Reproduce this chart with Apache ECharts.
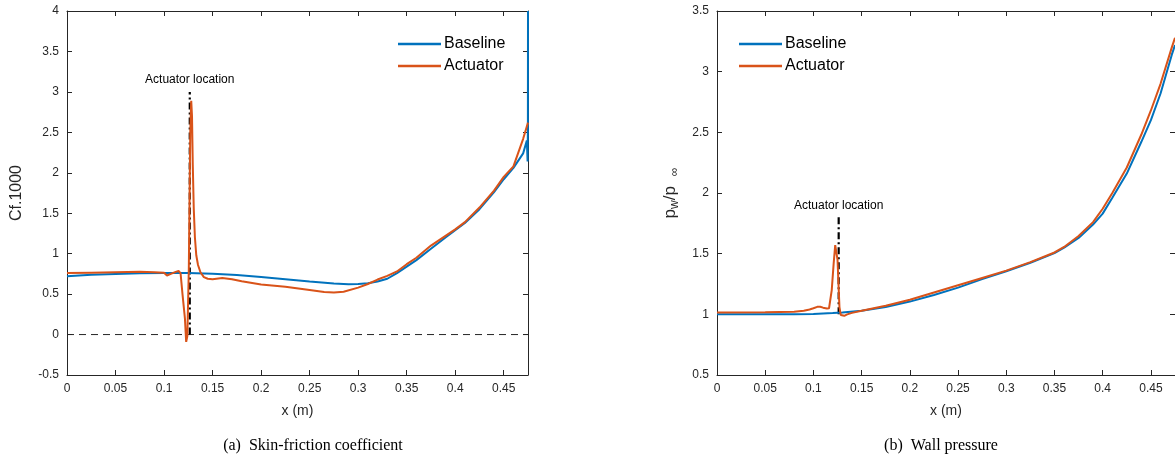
<!DOCTYPE html>
<html>
<head>
<meta charset="utf-8">
<script src="https://cdn.jsdelivr.net/npm/echarts@6/dist/echarts.min.js"></script>
<style>
  html, body { margin: 0; padding: 0; background: #fff; }
  #chart { width: 1175px; height: 465px; }
</style>
</head>
<body>
<div id="chart"></div>
<script>
// (a) skin friction, Cf*1000
const cfBaseX = [0, 0.025, 0.05, 0.075, 0.1, 0.125, 0.15, 0.175, 0.2, 0.225, 0.25, 0.275, 0.29, 0.3, 0.31, 0.32, 0.33, 0.34, 0.35, 0.36, 0.375, 0.39, 0.4, 0.41, 0.425, 0.44, 0.45, 0.46, 0.47, 0.4738, 0.4746, 0.4749, 0.475]
const cfBaseY = [0.72, 0.74, 0.75, 0.758, 0.762, 0.76, 0.752, 0.735, 0.712, 0.685, 0.655, 0.63, 0.622, 0.625, 0.635, 0.655, 0.69, 0.76, 0.84, 0.92, 1.06, 1.2, 1.29, 1.38, 1.55, 1.76, 1.92, 2.06, 2.24, 2.4, 2.14, 2.6, 4.0]
const cfActX = [0, 0.025, 0.05, 0.075, 0.09, 0.1, 0.103, 0.107, 0.112, 0.115, 0.117, 0.119, 0.1215, 0.1228, 0.124, 0.1255, 0.127, 0.128, 0.1288, 0.1296, 0.1306, 0.1318, 0.1332, 0.135, 0.1375, 0.141, 0.145, 0.15, 0.16, 0.17, 0.18, 0.2, 0.225, 0.25, 0.265, 0.275, 0.285, 0.3, 0.31, 0.32, 0.33, 0.34, 0.35, 0.36, 0.375, 0.39, 0.4, 0.41, 0.425, 0.44, 0.45, 0.46, 0.47, 0.475]
const cfActY = [0.76, 0.765, 0.77, 0.775, 0.77, 0.765, 0.73, 0.75, 0.775, 0.785, 0.76, 0.5, 0.2, -0.09, -0.02, 0.8, 2.5, 2.89, 2.7, 2.1, 1.56, 1.2, 0.98, 0.86, 0.77, 0.71, 0.69, 0.685, 0.7, 0.685, 0.66, 0.62, 0.59, 0.55, 0.525, 0.52, 0.53, 0.58, 0.625, 0.68, 0.725, 0.78, 0.87, 0.95, 1.1, 1.22, 1.3, 1.39, 1.57, 1.78, 1.95, 2.08, 2.42, 2.62]

// (b) wall pressure, pw/pinf
const pBaseX = [0, 0.05, 0.08, 0.1, 0.12, 0.13, 0.15, 0.175, 0.2, 0.225, 0.25, 0.275, 0.3, 0.325, 0.35, 0.36, 0.375, 0.39, 0.4, 0.41, 0.425, 0.44, 0.45, 0.46, 0.4717, 0.475]
const pBaseY = [1.0, 1.0, 1.0, 1.003, 1.01, 1.015, 1.03, 1.06, 1.105, 1.16, 1.22, 1.29, 1.355, 1.425, 1.505, 1.55, 1.63, 1.74, 1.83, 1.96, 2.16, 2.42, 2.6, 2.82, 3.14, 3.22]
const pActX = [0, 0.05, 0.08, 0.09, 0.096, 0.1, 0.104, 0.107, 0.11, 0.114, 0.1162, 0.119, 0.121, 0.1226, 0.124, 0.125, 0.126, 0.127, 0.1284, 0.13, 0.132, 0.135, 0.14, 0.15, 0.175, 0.2, 0.225, 0.25, 0.275, 0.3, 0.325, 0.35, 0.36, 0.375, 0.39, 0.4, 0.41, 0.425, 0.44, 0.45, 0.46, 0.4717, 0.475]
const pActY = [1.015, 1.017, 1.022, 1.03, 1.04, 1.05, 1.062, 1.063, 1.055, 1.048, 1.05, 1.2, 1.42, 1.571, 1.56, 1.45, 1.25, 1.06, 0.994, 0.982, 0.988, 1.0, 1.012, 1.03, 1.07, 1.12, 1.18, 1.24, 1.3, 1.36, 1.43, 1.51, 1.555, 1.645, 1.76, 1.87, 2.0, 2.21, 2.48, 2.68, 2.9, 3.2, 3.28]

// actuator marker: x position and vertical extent
const actLocX = [0.1265, 0.1262]
const actLocY = [[0, 3.0], [1.0, 1.8]]

const xTicks = [0, 0.05, 0.1, 0.15, 0.2, 0.25, 0.3, 0.35, 0.4, 0.45]

const BLUE = '#0072BD'
const ORANGE = '#D95319'
const AX = '#262626'
const FONT = '"Liberation Sans", Arial, sans-serif'
const SERIF = '16px "Liberation Serif", "Times New Roman", serif'

const pairs = (xs, ys) => xs.map((x, i) => [x, ys[i]])

const chart = echarts.init(document.getElementById('chart'))

const tickLabel = v => {
  const r = Math.round(v * 1000) / 1000
  return xTicks.includes(r) ? String(r) : ''
}

const makeX = (grid, top) => ({
  type: 'value',
  gridIndex: grid,
  position: top ? 'top' : 'bottom',
  min: 0,
  max: 0.475,
  interval: 0.05,
  axisLine: { show: true, onZero: false, lineStyle: { color: AX, width: 1 } },
  axisTick: { show: true, inside: true, length: 5, lineStyle: { color: AX } },
  axisLabel: top ? { show: false } : {
    show: true, color: AX, fontSize: 12, fontFamily: FONT, margin: 8,
    showMaxLabel: false, formatter: tickLabel
  },
  splitLine: { show: false },
  name: top ? '' : 'x (m)',
  nameLocation: 'middle',
  nameGap: 29,
  nameTextStyle: { color: AX, fontSize: 14, fontFamily: FONT }
})

const makeY = (grid, right, min, max, name, rich) => ({
  type: 'value',
  gridIndex: grid,
  position: right ? 'right' : 'left',
  min: min,
  max: max,
  interval: 0.5,
  axisLine: { show: true, onZero: false, lineStyle: { color: AX, width: 1 } },
  axisTick: { show: true, inside: true, length: 5, lineStyle: { color: AX } },
  axisLabel: right ? { show: false } : {
    show: true, color: AX, fontSize: 12, fontFamily: FONT, margin: 8,
    formatter: v => String(Math.round(v * 10) / 10)
  },
  splitLine: { show: false },
  name: right ? '' : name,
  nameLocation: 'middle',
  nameGap: grid === 0 ? 42 : 36,
  nameRotate: 90,
  nameTextStyle: { color: AX, fontSize: 16, fontFamily: FONT, rich: rich }
})

const lineSeries = (name, xi, yi, data, color) => ({
  name: name,
  type: 'line',
  xAxisIndex: xi,
  yAxisIndex: yi,
  data: data,
  showSymbol: false,
  symbol: 'none',
  smooth: false,
  lineStyle: { color: color, width: 2 },
  itemStyle: { color: color },
  emphasis: { disabled: true },
  animation: false,
  z: 3
})

const actSeries = (xi, yi, k) => ({
  name: 'loc' + k,
  type: 'line',
  xAxisIndex: xi,
  yAxisIndex: yi,
  data: [
    [actLocX[k], actLocY[k][0]],
    {
      value: [actLocX[k], actLocY[k][1]],
      label: {
        show: true, position: 'top', distance: 6,
        formatter: 'Actuator location',
        color: '#000', fontSize: 12, fontFamily: FONT
      }
    }
  ],
  showSymbol: true,
  symbolSize: 0,
  lineStyle: { color: '#000', width: 2.2, type: [7, 3, 2, 3] },
  itemStyle: { color: '#000' },
  emphasis: { disabled: true },
  animation: false,
  z: 2
})

const rich = {
  s: { fontSize: 12, fontFamily: FONT, color: AX, padding: [9, 0, 0, 0] },
  p: { fontSize: 17, fontFamily: FONT, color: AX }
}

const option = {
  backgroundColor: '#fff',
  animation: false,
  grid: [
    { left: 67, width: 461, top: 11, bottom: 90 },
    { left: 717, width: 461, top: 11, bottom: 90 }
  ],
  xAxis: [makeX(0, false), makeX(0, true), makeX(1, false), makeX(1, true)],
  yAxis: [
    makeY(0, false, -0.5, 4, 'Cf.1000'),
    makeY(0, true, -0.5, 4, ''),
    makeY(1, false, 0.5, 3.5, '{p|p}{s|w}{p|/p}{s|   ∞}', rich),
    makeY(1, true, 0.5, 3.5, '')
  ],
  legend: [
    {
      left: 393, top: 31, orient: 'vertical', itemGap: 6,
      itemWidth: 43, itemHeight: 2.5, icon: 'rect',
      data: ['Baseline', 'Actuator'],
      textStyle: { color: '#000', fontSize: 16, fontFamily: FONT, padding: [0, 0, 0, -2] },
      selectedMode: false
    },
    {
      left: 734, top: 31, orient: 'vertical', itemGap: 6,
      itemWidth: 43, itemHeight: 2.5, icon: 'rect',
      data: ['Baseline', 'Actuator'],
      textStyle: { color: '#000', fontSize: 16, fontFamily: FONT, padding: [0, 0, 0, -2] },
      selectedMode: false
    }
  ],
  series: [
    {
      name: 'zero', type: 'line', xAxisIndex: 0, yAxisIndex: 0,
      data: [[0, 0], [0.475, 0]], showSymbol: false, symbol: 'none',
      lineStyle: { color: AX, width: 1, type: [7, 5] },
      emphasis: { disabled: true }, z: 1
    },
    actSeries(0, 0, 0),
    lineSeries('Baseline', 0, 0, pairs(cfBaseX, cfBaseY), BLUE),
    lineSeries('Actuator', 0, 0, pairs(cfActX, cfActY), ORANGE),
    actSeries(2, 2, 1),
    lineSeries('Baseline', 2, 2, pairs(pBaseX, pBaseY), BLUE),
    lineSeries('Actuator', 2, 2, pairs(pActX, pActY), ORANGE)
  ],
  graphic: [
    {
      type: 'text', x: 313, y: 446,
      style: { text: '(a)  Skin-friction coefficient', font: SERIF, fill: '#000', align: 'center', verticalAlign: 'middle' }
    },
    {
      type: 'text', x: 941, y: 446,
      style: { text: '(b)  Wall pressure', font: SERIF, fill: '#000', align: 'center', verticalAlign: 'middle' }
    }
  ]
}

chart.setOption(option)
</script>
</body>
</html>
